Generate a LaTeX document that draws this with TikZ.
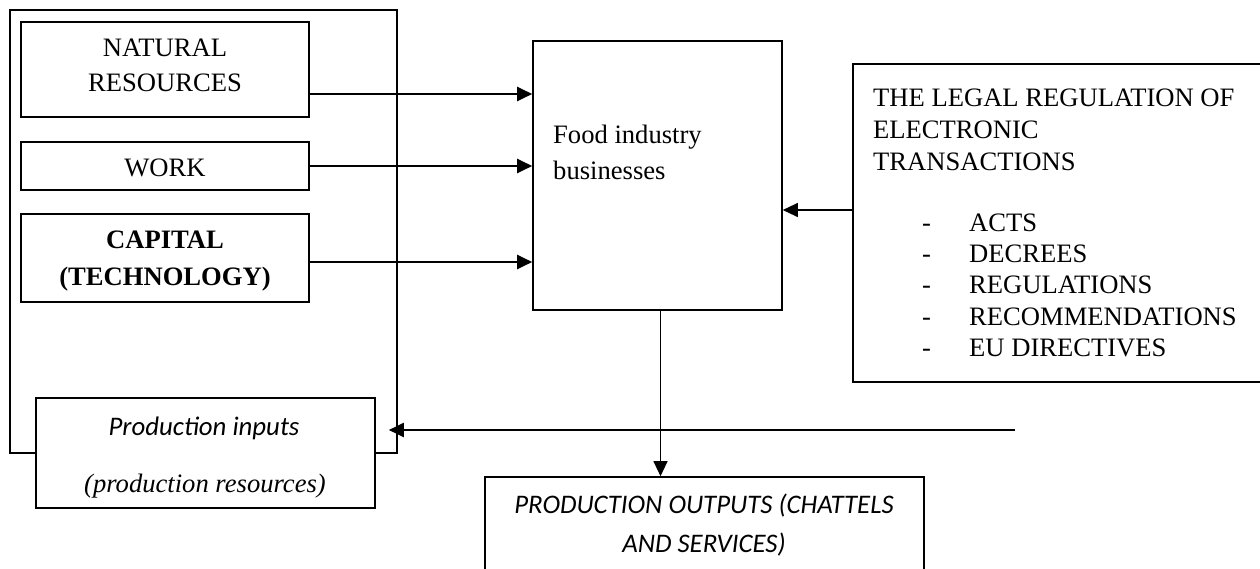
\documentclass[tikz,border=0pt]{standalone}
\usepackage{fontspec}
\setmainfont{Liberation Serif}
\newfontfamily\carfont{Carlito}
\usetikzlibrary{arrows.meta,calc}
\begin{document}
\begin{tikzpicture}[x=1pt,y=-1pt,
  box/.style={draw, line width=1.6pt, inner sep=0pt, fill=white},
  outerbox/.style={draw, line width=1.3pt, inner sep=0pt},
  txt/.style={inner sep=0pt, anchor=base, font=\fontsize{26.6}{31}\selectfont},
  ltxt/.style={txt, anchor=base west},
  ctxt/.style={txt, font=\fontsize{26.8}{31}\selectfont\carfont\itshape},
  arr/.style={line width=2pt, -{Triangle[length=15pt,width=14pt]}},
  thinarr/.style={line width=1.1pt, -{Triangle[length=15pt,width=14pt]}}]
\clip (0,0) rectangle (1260,569);
\fill[white] (0,0) rectangle (1260,569);
% boxes
\node[outerbox, minimum width=387, minimum height=443] (outer) at (203.5,231.5) {};
\node[box, minimum width=288, minimum height=95] (nat) at (165,69.5) {};
\node[box, minimum width=288, minimum height=48] (work) at (165,166) {};
\node[box, minimum width=288, minimum height=88] (cap) at (165,258) {};
\node[box, minimum width=339, minimum height=110] (inp) at (205.5,453) {};
\node[box, minimum width=249, minimum height=269] (food) at (657.5,175.5) {};
\node[box, minimum width=414, minimum height=318] (legal) at (1060,223) {};
\node[box, minimum width=439, minimum height=110] (out) at (704.5,532) {};
% texts
\node[txt] (t1) at (165,57) {NATURAL};
\node[txt] (t2) at (165,92) {RESOURCES};
\node[txt] (t3) at (165,177) {WORK};
\node[txt, font=\fontsize{26.6}{31}\selectfont\bfseries] (t4) at (165,249) {CAPITAL};
\node[txt, font=\fontsize{26.6}{31}\selectfont\bfseries] (t5) at (165,285) {(TECHNOLOGY)};
\node[ctxt] (t6) at (204,435) {Production inputs};
\node[txt, font=\fontsize{26.6}{31}\selectfont\itshape] (t7) at (205,492) {(production resources)};
\node[ltxt] (t8) at (553,144) {Food industry};
\node[ltxt] (t9) at (553,180) {businesses};
\node[ltxt] (l1) at (873,107) {THE LEGAL REGULATION OF};
\node[ltxt] (l2) at (873,139) {ELECTRONIC};
\node[ltxt] (l3) at (873,171) {TRANSACTIONS};
\foreach \y/\t [count=\i] in {232/ACTS,262/DECREES,293/REGULATIONS,325/RECOMMENDATIONS,356/EU DIRECTIVES}{
  \node[ltxt] (d\i) at (922,\y) {-};
  \node[ltxt] (e\i) at (969,\y) {\t};
}
\node[ctxt] (o1) at (704,513) {PRODUCTION OUTPUTS (CHATTELS};
\node[ctxt] (o2) at (704,552) {AND SERVICES)};
% connectors
\draw[arr] ($(nat.east)+(0,24.5)$) coordinate (a1) -- (a1 -| food.west);
\draw[arr] (work.east) -- (work.east -| food.west);
\draw[arr] ($(cap.east)+(0,4)$) coordinate (a3) -- (a3 -| food.west);
\draw[thinarr] ($(legal.west)+(0,-13)$) coordinate (a4) -- (a4 -| food.east);
\draw[thinarr] ($(food.south)+(3,0)$) coordinate (a5) -- (a5 |- out.north);
\coordinate (fb) at (1015,430);
\draw[arr] (fb) -- ($(fb -| inp.east)+(13,0)$);
\end{tikzpicture}
\end{document}
